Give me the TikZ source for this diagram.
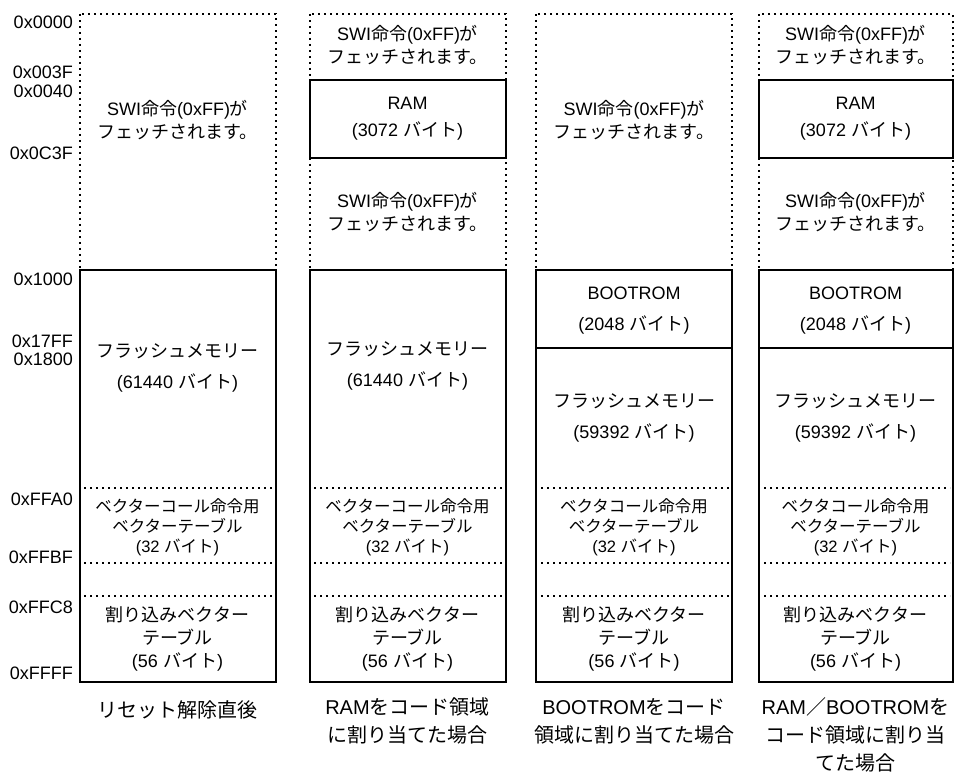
\documentclass[tikz,border=0pt]{standalone}
\usepackage{fontspec}
\setmainfont{Liberation Sans}
\newfontfamily\jpfont{Noto Sans CJK JP}
\newcommand{\jtx}[1]{{\jpfont #1}}
\usetikzlibrary{positioning}

\begin{document}
\begin{tikzpicture}[x=1pt, y=-1pt,
    frame/.style={draw, line width=2pt},
    dotframe/.style={draw, line width=2pt, dash pattern=on 2pt off 4pt},
    txt/.style={align=center, font=\fontsize{18}{23}\selectfont},
    vtxt/.style={align=center, font=\fontsize{16.5}{20}\selectfont},
    addr/.style={anchor=east, inner sep=0pt, font=\fontsize{18}{20}\selectfont},
    captxt/.style={align=center, font=\fontsize{20}{28}\selectfont}
  ]
    \useasboundingbox (0,0) rectangle (954,773);

    % address labels
    \node[addr] (a0000) at (73,22)  {0x0000};
    \node[addr] (a003f) at (73,72)  {0x003F};
    \node[addr] (a0040) at (73,91)  {0x0040};
    \node[addr] (a0c3f) at (73,153) {0x0C3F};
    \node[addr] (a1000) at (73,279) {0x1000};
    \node[addr] (a17ff) at (73,341) {0x17FF};
    \node[addr] (a1800) at (73,359) {0x1800};
    \node[addr] (affa0) at (73,499) {0xFFA0};
    \node[addr] (affbf) at (73,557) {0xFFBF};
    \node[addr] (affc8) at (73,607) {0xFFC8};
    \node[addr] (affff) at (73,673) {0xFFFF};

    % column 1
    \draw[dotframe] (79.5,14) rectangle (275.5,270);
    \draw[frame] (79.5,270) rectangle (275.5,682);
    \draw[dotframe] (84,488) -- (272,488);
    \draw[dotframe] (84,563) -- (272,563);
    \draw[dotframe] (84,596) -- (272,596);
    \node[txt] (swi1) at (177.5,120) {SWI\jtx{命令}(0xFF)\jtx{が}\\\jtx{フェッチされます。}};
    \node[txt] (fl1) at (177.5,368) {\jtx{フラッシュメモリー}\\[8pt](61440 \jtx{バイト})};
    \node[vtxt] (vc1) at (177.5,527) {\jtx{ベクターコール命令用}\\\jtx{ベクターテーブル}\\(32 \jtx{バイト})};
    \node[txt] (irq1) at (177.5,639) {\jtx{割り込みベクター}\\\jtx{テーブル}\\(56 \jtx{バイト})};
    \node[captxt] (cap1) at (177.5,710) {\jtx{リセット解除直後}};

    % column 2
    \draw[dotframe] (309.5,14) rectangle (505.5,270);
    \draw[frame] (309.5,80) rectangle (505.5,158);
    \draw[frame] (309.5,270) rectangle (505.5,682);
    \draw[dotframe] (314,488) -- (502,488);
    \draw[dotframe] (314,563) -- (502,563);
    \draw[dotframe] (314,596) -- (502,596);
    \node[txt] (swi2a) at (407.5,45) {SWI\jtx{命令}(0xFF)\jtx{が}\\\jtx{フェッチされます。}};
    \node[txt] (ram2) at (407.5,118.5) {RAM\\[4pt](3072 \jtx{バイト})};
    \node[txt] (swi2b) at (407.5,212) {SWI\jtx{命令}(0xFF)\jtx{が}\\\jtx{フェッチされます。}};
    \node[txt] (fl2) at (407.5,366) {\jtx{フラッシュメモリー}\\[8pt](61440 \jtx{バイト})};
    \node[vtxt] (vc2) at (407.5,527) {\jtx{ベクターコール命令用}\\\jtx{ベクターテーブル}\\(32 \jtx{バイト})};
    \node[txt] (irq2) at (407.5,639) {\jtx{割り込みベクター}\\\jtx{テーブル}\\(56 \jtx{バイト})};
    \node[captxt] (cap2) at (407.5,721) {RAM\jtx{をコード領域}\\\jtx{に割り当てた場合}};

    % column 3
    \draw[dotframe] (536,14) rectangle (732,270);
    \draw[frame] (536,270) rectangle (732,682);
    \draw[frame] (536,348) -- (732,348);
    \draw[dotframe] (541,488) -- (729,488);
    \draw[dotframe] (541,563) -- (729,563);
    \draw[dotframe] (541,596) -- (729,596);
    \node[txt] (swi3) at (634,120) {SWI\jtx{命令}(0xFF)\jtx{が}\\\jtx{フェッチされます。}};
    \node[txt] (boot3) at (634,311) {BOOTROM\\[8pt](2048 \jtx{バイト})};
    \node[txt] (fl3) at (634,418) {\jtx{フラッシュメモリー}\\[8pt](59392 \jtx{バイト})};
    \node[vtxt] (vc3) at (634,527) {\jtx{ベクタコール命令用}\\\jtx{ベクターテーブル}\\(32 \jtx{バイト})};
    \node[txt] (irq3) at (634,639) {\jtx{割り込みベクター}\\\jtx{テーブル}\\(56 \jtx{バイト})};
    \node[captxt] (cap3) at (634,721) {BOOTROM\jtx{をコード}\\\jtx{領域に割り当てた場合}};

    % column 4
    \draw[dotframe] (759,14) rectangle (952.5,270);
    \draw[frame] (759,80) rectangle (952.5,158);
    \draw[frame] (759,270) rectangle (952.5,682);
    \draw[frame] (759,348) -- (952.5,348);
    \draw[dotframe] (764,488) -- (950,488);
    \draw[dotframe] (764,563) -- (950,563);
    \draw[dotframe] (764,596) -- (950,596);
    \node[txt] (swi4a) at (855.5,45) {SWI\jtx{命令}(0xFF)\jtx{が}\\\jtx{フェッチされます。}};
    \node[txt] (ram4) at (855.5,118.5) {RAM\\[4pt](3072 \jtx{バイト})};
    \node[txt] (swi4b) at (855.5,212) {SWI\jtx{命令}(0xFF)\jtx{が}\\\jtx{フェッチされます。}};
    \node[txt] (boot4) at (855.5,311) {BOOTROM\\[8pt](2048 \jtx{バイト})};
    \node[txt] (fl4) at (855.5,418) {\jtx{フラッシュメモリー}\\[8pt](59392 \jtx{バイト})};
    \node[vtxt] (vc4) at (855.5,527) {\jtx{ベクタコール命令用}\\\jtx{ベクターテーブル}\\(32 \jtx{バイト})};
    \node[txt] (irq4) at (855.5,639) {\jtx{割り込みベクター}\\\jtx{テーブル}\\(56 \jtx{バイト})};
    \node[captxt] (cap4) at (855.5,735) {RAM\jtx{／}BOOTROM\jtx{を}\\\jtx{コード領域に割り当}\\\jtx{てた場合}};
  \end{tikzpicture}
\end{document}
